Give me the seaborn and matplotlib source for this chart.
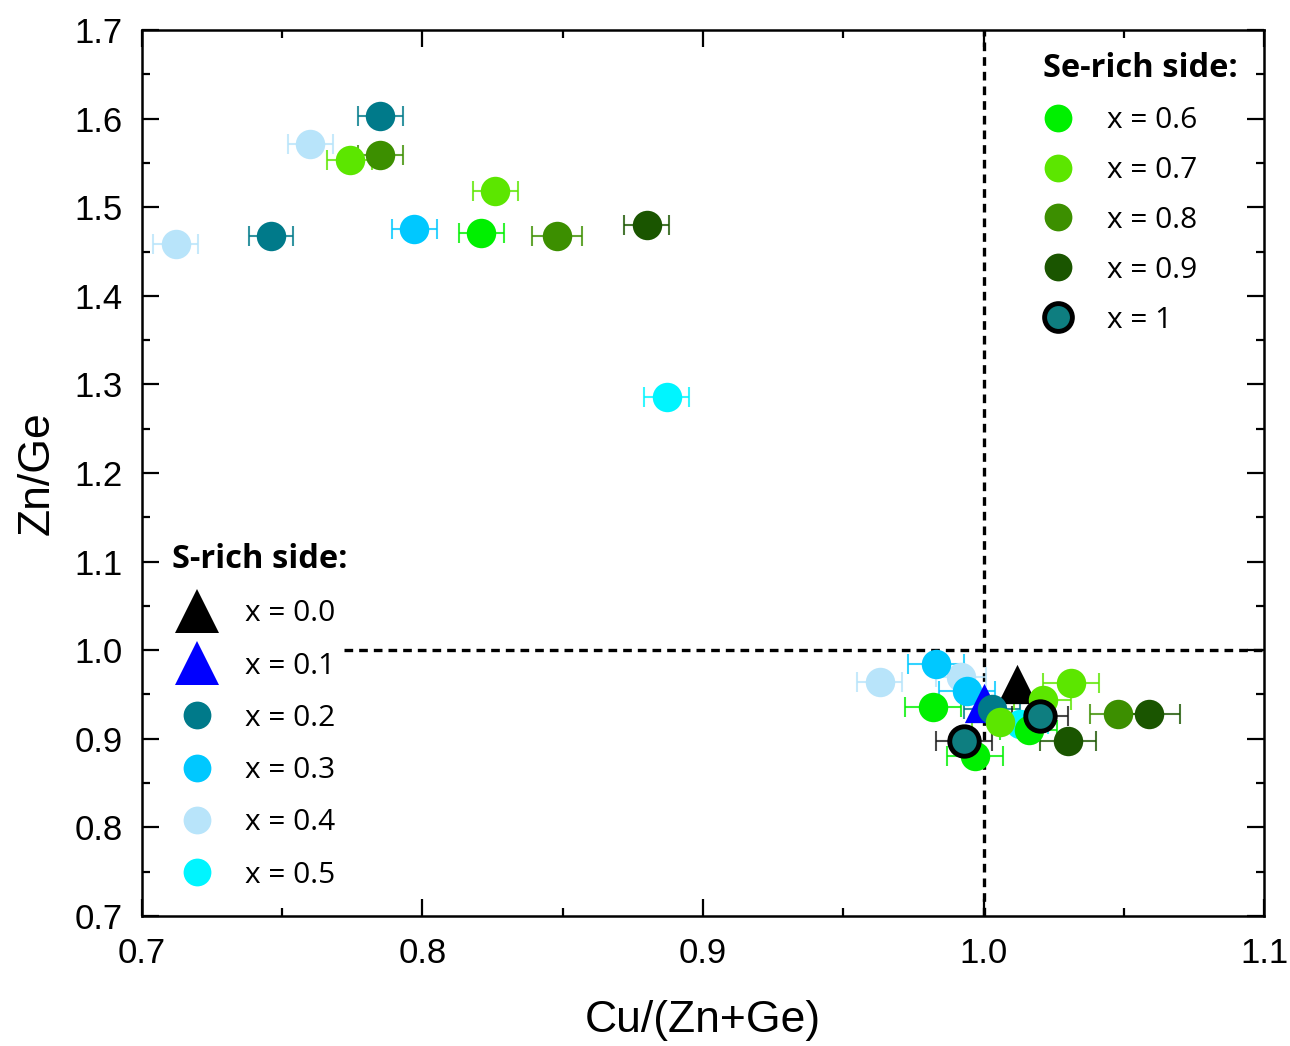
import matplotlib
matplotlib.use("Agg")
import matplotlib.pyplot as plt
from matplotlib.lines import Line2D
from matplotlib.ticker import MultipleLocator
import seaborn as sns
import pandas as pd

# ---------------- data ----------------
groups = ["0.0", "0.1", "0.2", "0.3", "0.4", "0.5", "0.6", "0.7", "0.8", "0.9", "1"]
colors = ["#000000", "#0000FF", "#007A8A", "#00C8FF", "#B8E4FA", "#00F5FF",
          "#00F000", "#5CE600", "#3C8F00", "#1A5500", "#0E7E80"]
markers = ["^", "^", "o", "o", "o", "o", "o", "o", "o", "o", "o"]

x_00 = [1.012]; y_00 = [0.962]; e_00 = [0.0]
x_01 = [1.000]; y_01 = [0.940]; e_01 = [0.0]
x_02 = [0.785, 0.746, 1.003]; y_02 = [1.603, 1.468, 0.934]; e_02 = [0.008, 0.008, 0.010]
x_03 = [0.797, 0.983, 0.994]; y_03 = [1.475, 0.984, 0.954]; e_03 = [0.008, 0.010, 0.010]
x_04 = [0.760, 0.712, 0.963, 0.992]; y_04 = [1.571, 1.458, 0.964, 0.970]; e_04 = [0.008, 0.008, 0.008, 0.009]
x_05 = [0.887, 1.013]; y_05 = [1.286, 0.917]; e_05 = [0.008, 0.010]
x_06 = [0.821, 0.982, 1.016, 0.997]; y_06 = [1.471, 0.936, 0.910, 0.881]; e_06 = [0.008, 0.010, 0.010, 0.010]
x_07 = [0.774, 0.826, 1.006, 1.021, 1.031]; y_07 = [1.553, 1.518, 0.919, 0.944, 0.963]; e_07 = [0.008, 0.008, 0.010, 0.010, 0.010]
x_08 = [0.785, 0.848, 1.048]; y_08 = [1.559, 1.468, 0.928]; e_08 = [0.008, 0.009, 0.010]
x_09 = [0.880, 1.059, 1.030]; y_09 = [1.480, 0.928, 0.897]; e_09 = [0.008, 0.011, 0.010]
x_10 = [1.020, 0.993]; y_10 = [0.926, 0.898]; e_10 = [0.010, 0.010]

xs = [x_00, x_01, x_02, x_03, x_04, x_05, x_06, x_07, x_08, x_09, x_10]
ys = [y_00, y_01, y_02, y_03, y_04, y_05, y_06, y_07, y_08, y_09, y_10]
es = [e_00, e_01, e_02, e_03, e_04, e_05, e_06, e_07, e_08, e_09, e_10]

x_ticks = [0.7, 0.8, 0.9, 1.0, 1.1]
y_ticks = [0.7, 0.8, 0.9, 1.0, 1.1, 1.2, 1.3, 1.4, 1.5, 1.6, 1.7]

# draw order (back to front)
order = [4, 3, 5, 1, 0, 2, 6, 7, 8, 9, 10]

# ---------------- plot ----------------
sns.set_style("ticks")
plt.rcParams['font.family'] = ['Liberation Sans', 'DejaVu Sans']
plt.rcParams['text.color'] = 'black'
plt.rcParams['axes.labelcolor'] = 'black'
plt.rcParams['xtick.color'] = 'black'
plt.rcParams['ytick.color'] = 'black'

fig = plt.figure(figsize=(12.9, 10.46), dpi=100)
ax = fig.add_axes([0.110, 0.1243, 0.870, 0.847])

for i in order:
    df = pd.DataFrame({"x": xs[i], "y": ys[i], "e": es[i]})
    if df["e"].sum() > 0:
        ax.errorbar(df["x"], df["y"], xerr=df["e"], fmt="none",
                    ecolor=colors[i] if i != 10 else "#1a1a1a", elinewidth=1.5,
                    capsize=7, capthick=1.5, alpha=0.8, zorder=2 + order.index(i) * 0.1)
    is_tri = markers[i] == "^"
    sns.scatterplot(data=df, x="x", y="y", ax=ax, color=colors[i],
                    marker=markers[i], s=800 if is_tri else 450,
                    edgecolor="black" if i == 10 else colors[i],
                    linewidth=3.5 if i == 10 else 0,
                    zorder=3 + order.index(i) * 0.1, legend=False)

# dashed reference lines
ax.plot([1.0, 1.0], [0.7, 1.7], ls=(0, (2.6, 1.8)), color="black", lw=2.4, zorder=1)
ax.plot([0.772, 1.1], [1.0, 1.0], ls=(0, (2.6, 1.8)), color="black", lw=2.4, zorder=1)

ax.set_xlim(0.7, 1.1)
ax.set_ylim(0.7, 1.7)
ax.set_xticks(x_ticks)
ax.set_xticklabels([f"{v:.1f}" for v in x_ticks])
ax.set_yticks(y_ticks)
ax.set_yticklabels([f"{v:.1f}" for v in y_ticks])
ax.xaxis.set_minor_locator(MultipleLocator(0.05))
ax.yaxis.set_minor_locator(MultipleLocator(0.05))
ax.tick_params(which="both", direction="in", top=True, right=True, width=1.6)
ax.tick_params(which="major", length=12, labelsize=25)
ax.tick_params(which="minor", length=6)
ax.tick_params(axis="x", which="major", pad=15)
ax.tick_params(axis="y", which="major", pad=14)
for s in ax.spines.values():
    s.set_linewidth(1.8)
    s.set_color("black")

ax.set_xlabel("Cu/(Zn+Ge)", fontsize=32, labelpad=22)
ax.set_ylabel("Zn/Ge", fontsize=32, labelpad=12)

# legends
def handle(i, tri_size=31, circ_size=20):
    is_tri = markers[i] == "^"
    return Line2D([], [], ls="none", marker=markers[i], color=colors[i],
                  markersize=tri_size if is_tri else circ_size,
                  markeredgecolor="black" if i == 10 else colors[i],
                  markeredgewidth=3.5 if i == 10 else 0)

lab_font = {"family": ["Open Sans", "DejaVu Sans"], "size": 21.5}
title_font = {"family": ["Open Sans", "DejaVu Sans"], "size": 23.5, "weight": "bold"}
se_idx = [6, 7, 8, 9, 10]
leg1 = ax.legend([handle(i) for i in se_idx], [f"x = {groups[i]}" for i in se_idx],
                 title="Se-rich side:", loc="upper left", bbox_to_anchor=(0.803, 0.975),
                 frameon=False, prop=lab_font, labelspacing=0.7, handlelength=1.0,
                 handletextpad=1.15, alignment="left", borderaxespad=0, borderpad=0)
leg1.get_title().set_fontproperties(title_font)
ax.add_artist(leg1)

s_idx = [0, 1, 2, 3, 4, 5]
leg2 = ax.legend([handle(i) for i in s_idx], [f"x = {groups[i]}" for i in s_idx],
                 title="S-rich side:", loc="upper left", bbox_to_anchor=(0.027, 0.421),
                 frameon=False, prop=lab_font, labelspacing=0.78, handlelength=1.65,
                 handletextpad=0.8, alignment="left", borderaxespad=0, borderpad=0)
leg2.get_title().set_fontproperties(title_font)

fig.savefig("out.png", dpi=100)
